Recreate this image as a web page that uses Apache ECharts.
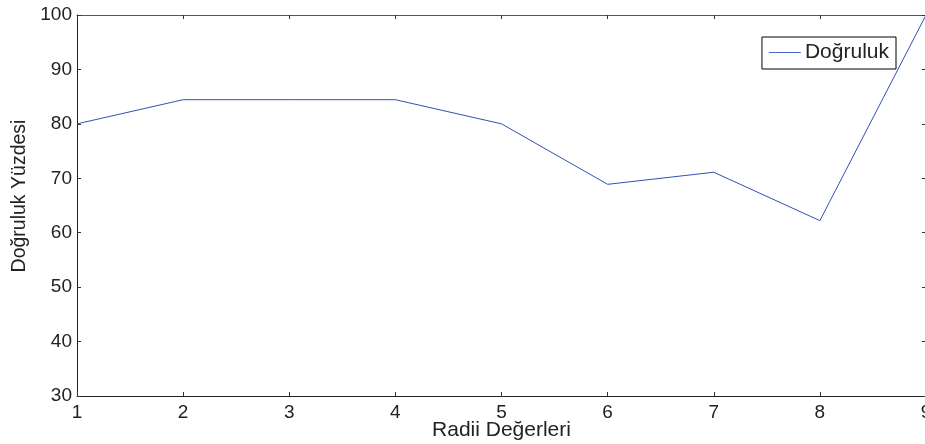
<!DOCTYPE html>
<html>
<head>
<meta charset="utf-8">
<script src="https://cdn.jsdelivr.net/npm/echarts@6/dist/echarts.min.js"></script>
<style>html,body{margin:0;padding:0;background:#fff}#c{width:925px;height:444px}</style>
</head>
<body>
<div id="c"></div>
<script>
var radii = [1, 2, 3, 4, 5, 6, 7, 8, 9];
var accuracy = [80, 84.44, 84.44, 84.44, 80, 68.89, 71.11, 62.22, 100];
var xTicks = [1, 2, 3, 4, 5, 6, 7, 8, 9];
var yTicks = [30, 40, 50, 60, 70, 80, 90, 100];
var seriesName = 'Doğruluk';
var xTitle = 'Radii Değerleri';
var yTitle = 'Doğruluk Yüzdesi';

var font = 'Liberation Sans, Arial, sans-serif';
var chart = echarts.init(document.getElementById('c'), null, {renderer: 'canvas'});
var data = radii.map(function (r, i) { return [r, accuracy[i]]; });
var axisLine = {show: true, lineStyle: {color: '#222', width: 1}};
var tick = {show: true, inside: true, length: 4, lineStyle: {color: '#333', width: 1}};
chart.setOption({
  animation: false,
  backgroundColor: '#fff',
  grid: {left: 77, right: -1, top: 15, bottom: 48, containLabel: false, outerBoundsMode: 'none'},
  legend: {
    show: true,
    right: 29, top: 37,
    orient: 'vertical',
    backgroundColor: '#fff',
    borderColor: '#000', borderWidth: 1, borderRadius: 0,
    padding: [5, 7, 6, 7],
    itemWidth: 32, itemHeight: 1, itemGap: 4,
    textStyle: {fontFamily: font, fontSize: 21, color: '#222', padding: [0, 0, 0, -1]},
    data: [{name: seriesName, icon: 'rect', itemStyle: {color: '#4a68c4'}}]
  },
  xAxis: [{
    type: 'value', min: xTicks[0], max: xTicks[xTicks.length - 1], interval: 1,
    position: 'bottom',
    name: xTitle, nameLocation: 'middle', nameGap: 24, nameMoveOverlap: false,
    nameTextStyle: {fontFamily: font, fontSize: 21, color: '#222'},
    axisLine: axisLine, axisTick: tick,
    axisLabel: {fontFamily: font, fontSize: 19, color: '#222', margin: 7, showMaxLabel: true, showMinLabel: true},
    splitLine: {show: false}
  }, {
    type: 'value', min: xTicks[0], max: xTicks[xTicks.length - 1], interval: 1,
    position: 'top',
    axisLine: {show: true, lineStyle: {color: '#555', width: 1}}, axisTick: tick,
    axisLabel: {show: false}, splitLine: {show: false}
  }],
  yAxis: [{
    type: 'value', min: yTicks[0], max: yTicks[yTicks.length - 1], interval: 10,
    position: 'left',
    name: yTitle, nameLocation: 'middle', nameGap: 47, nameRotate: 90, nameMoveOverlap: false,
    nameTextStyle: {fontFamily: font, fontSize: 19.5, color: '#222', padding: [0, 0, 0, 19]},
    axisLine: axisLine, axisTick: tick,
    axisLabel: {fontFamily: font, fontSize: 19, color: '#222', margin: 5},
    splitLine: {show: false}
  }, {
    type: 'value', min: yTicks[0], max: yTicks[yTicks.length - 1], interval: 10,
    position: 'right',
    axisLine: {show: true, lineStyle: {color: '#555', width: 1}}, axisTick: tick,
    axisLabel: {show: false}, splitLine: {show: false}
  }],
  series: [{
    name: seriesName,
    type: 'line',
    xAxisIndex: 0, yAxisIndex: 0,
    data: data,
    symbol: 'none',
    showSymbol: false,
    lineStyle: {color: '#3050b4', width: 1},
    itemStyle: {color: '#3050b4'}
  }]
});
</script>
</body>
</html>
